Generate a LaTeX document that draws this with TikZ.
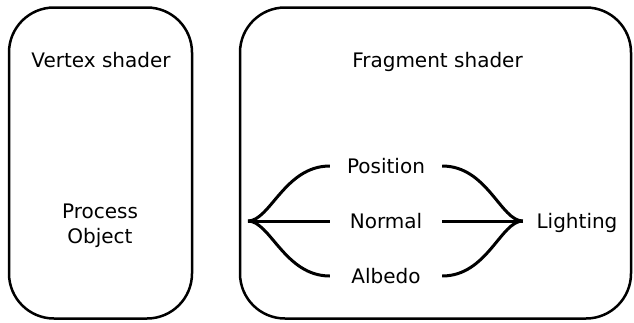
\documentclass[tikz,border=0pt]{standalone}
\usepackage{fontspec}
\setmainfont{DejaVu Sans}

\begin{document}
\begin{tikzpicture}[x=1pt, y=-1pt,
    every node/.style={font=\fontsize{20}{25}\selectfont},
    stage/.style={draw, line width=2.5pt, rounded corners=45pt},
    buf/.style={inner sep=0pt, minimum width=112pt, text height=14pt, text depth=0pt},
    wire/.style={line width=3pt}]
      \useasboundingbox (0,0) rectangle (634,322);
      \node[stage, minimum width=183, minimum height=311] (vs) at (100.5,163) {};
      \node[stage, minimum width=391, minimum height=311] (fs) at (435.5,163) {};
      \node[anchor=base]  (vst) at (101,67)    {Vertex shader};
      \node[anchor=base]  (fst) at (437.5,67)  {Fragment shader};
      \node[align=center] (obj) at (100,225.5) {Process\\Object};
      \coordinate         (split) at (248,221);
      \node[buf]          (pos) at (386,166)   {Position};
      \node[buf]          (nrm) at (386,221)   {Normal};
      \node[buf]          (alb) at (386,276)   {Albedo};
      \node[buf, minimum width=108pt] (lit) at (577,221) {Lighting};
      \foreach \b in {pos, alb} {
        \draw[wire]       (split) .. controls +(22,0) and +(-45,0) .. (\b.west);
        \draw[wire]       (\b.east) .. controls +(45,0) and +(-22,0) .. (lit.west);
      }
      \draw[wire]         (split) -- (nrm.west);
      \draw[wire]         (nrm.east) -- (lit.west);
    \end{tikzpicture}
\end{document}
